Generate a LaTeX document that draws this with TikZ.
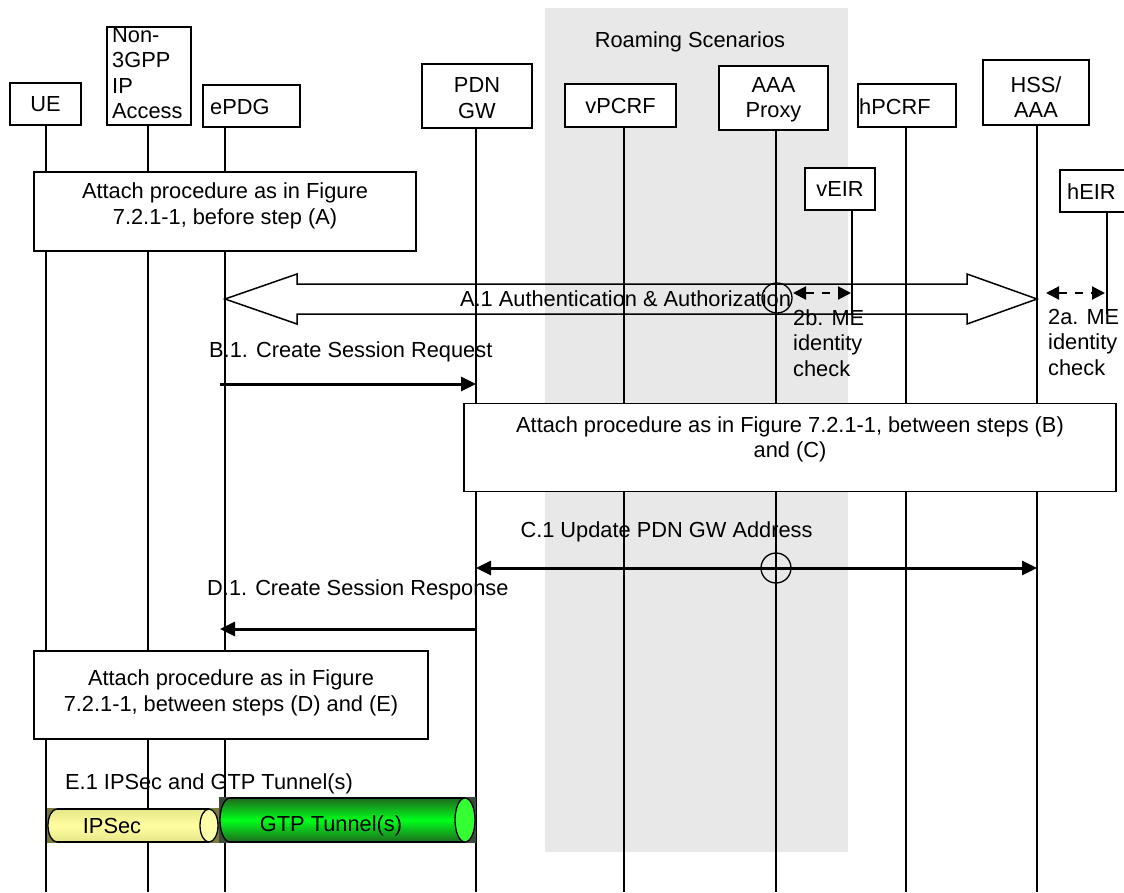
\documentclass[tikz,border=0pt]{standalone}
\usepackage{fontspec}
\setmainfont{Liberation Sans}
\usetikzlibrary{arrows.meta}
\definecolor{roam}{HTML}{E8E8E8}
\definecolor{ipsback}{HTML}{7A7A3A}
\definecolor{ipsmid}{HTML}{FFFFA0}
\definecolor{ipsedge}{HTML}{E6E68A}
\definecolor{ipscap}{HTML}{FFFFAA}
\definecolor{gtpback}{HTML}{3A4A3A}
\definecolor{gtpmid}{HTML}{00FF1A}
\definecolor{gtpedge}{HTML}{1E6A1E}
\definecolor{gtpcap}{HTML}{33FF33}
\begin{document}
\begin{tikzpicture}[x=1pt,y=-1pt,
  every node/.style={font=\fontsize{21.8}{25.5}\selectfont, inner sep=0pt},
  entity/.style={draw, line width=1.5pt, fill=white},
  procbox/.style={draw, line width=1.5pt, fill=white},
  lifeline/.style={line width=1.2pt},
  msg/.style={line width=3pt, -{Triangle[length=15pt,width=14pt]}},
  bimsg/.style={line width=3pt, {Triangle[length=15pt,width=14pt]}-{Triangle[length=15pt,width=14pt]}},
  eirmsg/.style={line width=2pt, dash pattern=on 8pt off 8pt, {Triangle[length=13pt,width=13pt]}-{Triangle[length=13pt,width=13pt]}},
  marker/.style={draw, circle, line width=1.3pt, minimum size=30pt}]
\useasboundingbox (0,0) rectangle (1124,892);
% roaming area
\fill[roam] (545,8) rectangle (848,852);
\node (roamlbl) at (690,42) {Roaming Scenarios};
% entity boxes
\node[entity, minimum width=71pt, minimum height=42pt] (ue) at (45.5,104) {UE};
\node[entity, minimum width=84pt, minimum height=98pt] (n3gpp) at (149,76) {};
\node[anchor=north west, align=left] (n3gppt) at (112,27) {Non-\\3GPP\\IP\\Access};
\node[entity, minimum width=97pt, minimum height=42pt] (epdg) at (251.5,106) {};
\node[anchor=west] (epdgt) at (210,107) {ePDG};
\node[entity, minimum width=110pt, minimum height=64pt] (pdngw) at (477,96) {};
\node[align=center] (pdngwt) at (477,98) {PDN\\GW};
\node[entity, minimum width=111pt, minimum height=43pt] (vpcrf) at (620.5,105.5) {vPCRF};
\node[entity, minimum width=109pt, minimum height=64pt] (aaa) at (773.5,98) {};
\node[align=center] (aaat) at (773.5,100) {AAA\\Proxy};
\node[entity, minimum width=98pt, minimum height=43pt] (hpcrf) at (907,105.5) {};
\node[anchor=west] (hpcrft) at (859,107) {hPCRF};
\node[entity, minimum width=106pt, minimum height=65pt] (hss) at (1036,92.5) {};
\node[align=center] (hsst) at (1036,97) {HSS/\\AAA};
\node[entity, minimum width=70pt, minimum height=42pt] (veir) at (840,189) {vEIR};
\node[entity, minimum width=70pt, minimum height=42pt] (heir) at (1095,191) {};
\node[anchor=west] (heirt) at (1067,192) {hEIR};
% lifelines
\coordinate (ueE) at (46,892);
\coordinate (n3E) at (148,892);
\coordinate (epE) at (225,892);
\coordinate (pdE) at (476,892);
\coordinate (vpE) at (624,892);
\coordinate (aaE) at (776,892);
\coordinate (hpE) at (906,892);
\coordinate (hsE) at (1037,892);
\coordinate (veE) at (852,314);
\coordinate (heE) at (1107,314);
\draw[lifeline] (46,125) -- (ueE);
\draw[lifeline] (148,125) -- (n3E);
\draw[lifeline] (225,127) -- (epE);
\draw[lifeline] (476,128) -- (pdE);
\draw[lifeline] (624,127) -- (vpE);
\draw[lifeline] (776,130) -- (aaE);
\draw[lifeline] (906,127) -- (hpE);
\draw[lifeline] (1037,125) -- (hsE);
\draw[lifeline] (852,210) -- (veE);
\draw[lifeline] (1107,212) -- (heE);
% box 1
\node[procbox, minimum width=382pt, minimum height=79pt] (box1) at (225,211.5) {};
\node[align=center] (box1t) at (225,206) {Attach procedure as in Figure\\7.2.1-1, before step (A)};
% A.1 big double arrow
\coordinate (a1L) at (225,299);
\coordinate (a1R) at (1037,299);
\draw[line width=1.5pt, line join=miter] (a1L) -- (297,274) -- (297,284) -- (967,284) -- (967,274) -- (a1R) -- (967,324) -- (967,314) -- (297,314) -- (297,324) -- cycle;
\node (a1t) at (625.5,299) {A.1 Authentication \& Authorization};
\node[marker] (c1) at (777,298) {};
% ME identity checks
\coordinate (e2bL) at (793,293);
\coordinate (e2bR) at (851,293);
\coordinate (e2aL) at (1046,293);
\coordinate (e2aR) at (1105,293);
\draw[eirmsg] (e2bL) -- (e2bR);
\draw[eirmsg] (e2aL) -- (e2aR);
\node[anchor=north west, align=left] (t2b) at (793,309) {2b. ME\\identity\\check};
\node[anchor=north west, align=left] (t2a) at (1048,309) {2a. ME\\identity\\check};
% B.1
\node[anchor=west] (b1t) at (209,352) {B.1. Create Session Request};
\coordinate (b1s) at (220,384);
\coordinate (b1e) at (476,384);
\draw[msg] (b1s) -- (b1e);
% box 2
\node[procbox, minimum width=652pt, minimum height=88pt] (box2) at (790,447.5) {};
\node[align=center] (box2t) at (790,439.5) {Attach procedure as in Figure 7.2.1-1, between steps (B)\\and (C)};
% C.1
\node (c1t) at (666.5,532) {C.1 Update PDN GW Address};
\coordinate (c1s) at (476,568);
\coordinate (c1e) at (1037,568);
\draw[bimsg] (c1s) -- (c1e);
\node[marker] (c2) at (776,568) {};
% D.1
\node[anchor=west] (d1t) at (207,590) {D.1. Create Session Response};
\coordinate (d1s) at (476,629);
\coordinate (d1e) at (220,629);
\draw[msg] (d1s) -- (d1e);
% box 3
\node[procbox, minimum width=394pt, minimum height=88pt] (box3) at (231,695) {};
\node[align=center] (box3t) at (231,693) {Attach procedure as in Figure\\7.2.1-1, between steps (D) and (E)};
% E.1
\node[anchor=west] (e1t) at (65,784) {E.1 IPSec and GTP Tunnel(s)};
% IPSec tube
\fill[ipsback] (47,808) rectangle (219,843);
\shade[top color=ipsedge, bottom color=ipsedge, middle color=ipsmid] (57,809) rectangle (209,842);
\shade[top color=ipsedge, bottom color=ipsedge, middle color=ipsmid] (57,825.5) ellipse [x radius=9pt, y radius=16.5pt];
\draw[line width=1.3pt] (57,809) -- (209,809) (57,842) -- (209,842);
\begin{scope}
\clip (40,800) rectangle (57,850);
\draw[line width=1.3pt] (57,825.5) ellipse [x radius=9pt, y radius=16.5pt];
\end{scope}
\draw[line width=1.3pt, fill=ipscap] (209,825.5) ellipse [x radius=9pt, y radius=16.5pt];
\node (ipst) at (112,826) {IPSec};
% GTP tube
\fill[gtpback] (219,797) rectangle (476,843);
\shade[top color=gtpedge, bottom color=gtpedge, middle color=gtpmid] (230,798) rectangle (465,842);
\shade[top color=gtpedge, bottom color=gtpedge, middle color=gtpmid] (230,820) ellipse [x radius=10pt, y radius=22pt];
\draw[line width=1.3pt] (230,798) -- (465,798) (230,842) -- (465,842);
\begin{scope}
\clip (210,790) rectangle (230,850);
\draw[line width=1.3pt] (230,820) ellipse [x radius=10pt, y radius=22pt];
\end{scope}
\draw[line width=1.3pt, fill=gtpcap] (465,820) ellipse [x radius=10pt, y radius=22pt];
\node (gtpt) at (331,826) {GTP Tunnel(s)};
\end{tikzpicture}
\end{document}
